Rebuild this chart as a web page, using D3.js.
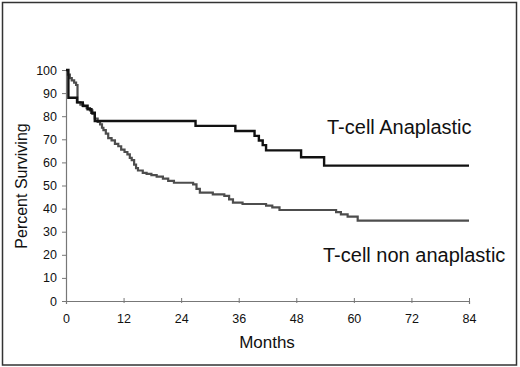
<!DOCTYPE html>
<html>
<head>
<meta charset="utf-8">
<script src="https://cdn.jsdelivr.net/npm/d3@7"></script>
<style>
	body { margin: 0; background: #fff; }
	svg text { font-family: "Liberation Sans", Arial, sans-serif; fill: #111; }
</style>
</head>
<body>
<div id="chart"></div>
<script>
// Tick values
const xTicks = [0, 12, 24, 36, 48, 60, 72, 84];
const yTicks = [0, 10, 20, 30, 40, 50, 60, 70, 80, 90, 100];

// Series labels
const labelAnaplastic = 'T-cell Anaplastic';
const labelNonAnaplastic = 'T-cell non anaplastic';

// Kaplan-Meier points, [month, percent surviving]
const anaplastic = [
	[0, 100], [0.5, 88], [2.3, 86], [3.5, 84.5], [4.5, 83], [5.3, 81.5],
	[6, 77.9], [27, 75.8], [35.3, 73.6], [39.3, 71.5], [40.2, 69.5],
	[41, 67.5], [41.7, 65.2], [49, 62.2], [53.8, 58.6], [84, 58.6]
];

const nonAnaplastic = [
	[0, 100], [0.4, 98], [0.8, 96.5], [1.2, 95.5], [1.7, 94.5], [2.1, 93.5],
	[2.4, 86], [3, 85], [3.6, 84.4], [4.3, 83.5], [5, 82.5], [5.5, 81],
	[6, 79], [6.6, 77.5], [7.1, 76.5], [7.5, 75], [7.8, 74], [8.3, 72.5],
	[8.8, 70.5], [9.5, 69.5], [10.2, 68], [10.9, 67], [11.5, 65.5],
	[12.2, 64.5], [12.8, 63.5], [13.3, 62], [13.7, 61], [14.2, 59],
	[14.6, 57.5], [15, 56.5], [16, 55.5], [16.8, 55], [17.8, 54.5],
	[18.9, 53.8], [20.2, 53], [21.3, 52], [22.5, 51.2], [26.5, 50.5],
	[27.2, 48.5], [27.9, 46.9], [30.6, 46.2], [33, 45.5], [34, 44],
	[34.8, 42.6], [36.8, 42], [41.7, 41.3], [43, 40.5], [44.5, 39.4],
	[56.3, 38.5], [57.3, 37.5], [58.7, 36.5], [60.8, 34.8], [84, 34.8]
];

const width = 520;
const height = 367;

// Plot area edges
const plot = { left: 66, right: 469, top: 70, bottom: 301 };

const svg = d3.select('#chart')
	.append('svg')
	.attr('width', width)
	.attr('height', height);

// Outer frame
svg.append('rect')
	.attr('x', 2.5)
	.attr('y', 2.5)
	.attr('width', 514)
	.attr('height', 362.5)
	.attr('fill', 'none')
	.attr('stroke', '#333')
	.attr('stroke-width', 1.5);

const xScale = d3.scaleLinear()
	.domain([0, 84])
	.range([plot.left, plot.right]);

const yScale = d3.scaleLinear()
	.domain([0, 100])
	.range([plot.bottom, plot.top]);

// Y axis
const yAxis = svg.append('g')
	.attr('transform', `translate(${plot.left}, 0)`)
	.call(d3.axisLeft(yScale).tickValues(yTicks).tickSize(4).tickPadding(5));

// X axis
const xAxis = svg.append('g')
	.attr('transform', `translate(0, ${plot.bottom})`)
	.call(d3.axisBottom(xScale).tickValues(xTicks).tickSize(3).tickPadding(10));

[yAxis, xAxis].forEach(ax => {
	ax.select('.domain').attr('stroke', '#777').attr('stroke-width', 1.2);
	ax.selectAll('.tick line').attr('stroke', '#777');
	ax.selectAll('.tick text')
		.attr('fill', '#111')
		.style('font-size', '12.5px')
		.style('font-family', '"Liberation Sans", Arial, sans-serif');
});
// x ticks cross the axis line
xAxis.selectAll('.tick line').attr('y1', -3).attr('y2', 2);

// Survival lines
const line = d3.line()
	.x(d => xScale(d[0]))
	.y(d => yScale(d[1]))
	.curve(d3.curveStepAfter);

svg.append('path')
	.datum(nonAnaplastic)
	.attr('d', line)
	.attr('fill', 'none')
	.attr('stroke', '#4d4d4d')
	.attr('stroke-width', 2.2);

svg.append('path')
	.datum(anaplastic)
	.attr('d', line)
	.attr('fill', 'none')
	.attr('stroke', '#111')
	.attr('stroke-width', 2.4);

// Series labels
svg.append('text')
	.attr('x', 327)
	.attr('y', 134)
	.style('font-size', '20px')
	.text(labelAnaplastic);

svg.append('text')
	.attr('x', 323)
	.attr('y', 262)
	.style('font-size', '20px')
	.text(labelNonAnaplastic);

// Axis titles
svg.append('text')
	.attr('x', 267)
	.attr('y', 348)
	.attr('text-anchor', 'middle')
	.style('font-size', '17px')
	.text('Months');

svg.append('text')
	.attr('transform', 'translate(27, 186) rotate(-90)')
	.attr('text-anchor', 'middle')
	.style('font-size', '16px')
	.text('Percent Surviving');
</script>
</body>
</html>
